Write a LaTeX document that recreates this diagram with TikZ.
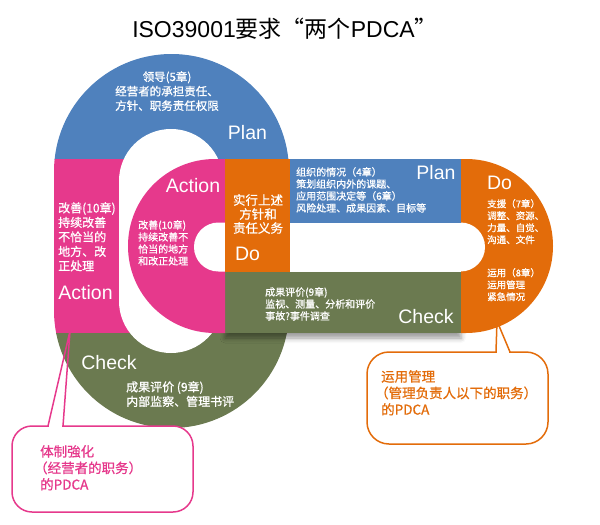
\documentclass[tikz,border=0pt]{standalone}
\usepackage{fontspec}
\setmainfont{Liberation Sans}
\newfontfamily\cjk{Noto Sans CJK SC}
\newfontfamily\cjkb{Noto Sans CJK SC}[FakeBold=0.8]
\usepackage{tikz}
\usetikzlibrary{shadows.blur}
\definecolor{planblue}{RGB}{79,129,189}
\definecolor{actpink}{RGB}{230,57,140}
\definecolor{doorange}{RGB}{227,108,10}
\definecolor{chkgreen}{RGB}{107,122,80}
\tikzset{%
    phase/.style={text=white, inner sep=0pt, font=\fontsize{19.5}{22}\selectfont},
    memo/.style={text=white, inner sep=0pt, align=left, font=\cjkb\fontsize{10}{12}\selectfont},
    bigmemo/.style={text=white, inner sep=0pt, align=left, font=\cjkb\fontsize{12}{14.5}\selectfont},
    callbox/.style={draw=#1, line width=1.5pt, outer sep=0pt, fill=white},
    calltext/.style={text=#1, inner sep=0pt, align=left, font=\cjkb\fontsize{13.5}{16.5}\selectfont}
}

\begin{document}
\begin{tikzpicture}[x=1pt,y=-1pt]
    \useasboundingbox (0,0) rectangle (600,525);
    \node[font=\fontsize{23}{26}\selectfont, anchor=base] (title) at (285,37) {ISO39001{\cjk 要求“两个}PDCA{\cjk ”}};

    % top-management ring
    \begin{scope}
        \clip (0,0) rectangle (600,159);
        \fill[planblue, rounded corners=117.4pt] (54,54) rectangle (289,428);
    \end{scope}
    \begin{scope}
        \clip (0,159) rectangle (600,333);
        \fill[actpink, rounded corners=117.4pt] (54,54) rectangle (289,428);
    \end{scope}
    \begin{scope}
        \clip (0,333) rectangle (600,525);
        \fill[chkgreen, rounded corners=117.4pt] (54,54) rectangle (289,428);
    \end{scope}
    \fill[white, rounded corners=51.9pt] (119,129) rectangle (223,353);

    % operational ring
    \fill[chkgreen, blur shadow={shadow xshift=0pt, shadow yshift=-5pt, shadow opacity=40, shadow blur radius=5pt}] (225,271.5) rectangle (461,333);
    \begin{scope}
        \clip (0,0) rectangle (225,525);
        \fill[actpink, rounded corners=86.9pt] (128,159) rectangle (553,333);
    \end{scope}
    \begin{scope}
        \clip (461,0) rectangle (600,525);
        \fill[doorange, rounded corners=86.9pt] (128,159) rectangle (553,333);
    \end{scope}
    \fill[white, rounded corners=24.4pt] (194,222.5) rectangle (485,271.5);
    \fill[doorange] (225,159) rectangle (290,271.5);
    \fill[planblue] (290,159) rectangle (461,222.5);

    % labels
    \node[phase] (plantop) at (247.5,133) {Plan};
    \node[bigmemo, align=center, anchor=north, font=\cjkb\fontsize{11.5}{14.5}\selectfont] (leadnote) at (167,71) {领导(5章)\\经营者的承担责任、\\方针、职务责任权限};
    \node[bigmemo, anchor=north west] (actnote) at (58,202) {改善(10章)\\持续改善\\不恰当的\\地方、改\\正处理};
    \node[phase] (actleft) at (85.5,292.5) {Action};
    \node[phase] (checkbot) at (109,363) {Check};
    \node[bigmemo, anchor=north west] (checknote) at (126,381) {成果评价 (9章)\\内部监察、管理书评};

    \node[phase] (actin) at (193,185.5) {Action};
    \node[memo, anchor=north west] (actinnote) at (138,220) {改善(10章)\\持续改善不\\恰当的地方\\和改正处理};
    \node[bigmemo, align=center, anchor=north, font=\cjkb\fontsize{12.5}{14}\selectfont] (donote) at (258,194) {实行上述\\方针和\\责任义务};
    \node[phase] (doleft) at (247.5,254) {Do};
    \node[memo, anchor=north west] (plannote) at (296,167) {组织的情况（4章）\\策划组织内外的课题、\\应用范围决定等（6章）\\风险处理、成果因素、目标等};
    \node[phase] (planright) at (436,172.5) {Plan};
    \node[phase] (doright) at (499.5,183) {Do};
    \node[memo, anchor=north west, font=\cjkb\fontsize{9.5}{12}\selectfont] (supnote) at (487,199) {支援（7章）\\调整、资源、\\力量、自觉、\\沟通、文件};
    \node[memo, anchor=north west, font=\cjkb\fontsize{9.5}{12}\selectfont] (opnote) at (487,268) {运用（8章）\\运用管理\\紧急情况};
    \node[memo, anchor=north west] (evalnote) at (265,287) {成果评价(9章)\\监视、测量、分析和评价\\事故?事件调查};
    \node[phase] (checkright) at (426,317) {Check};

    % callouts
    \node[callbox=actpink, rounded corners=20pt, minimum width=181pt, minimum height=86pt] (leftcall) at (102.5,469) {};
    \coordinate (lefttip) at (70,331);
    \fill[white] ([xshift=36.8pt,yshift=1.3pt]leftcall.north west) rectangle ([xshift=50.2pt,yshift=-1.3pt]leftcall.north west);
    \draw[actpink, line width=1.5pt, line join=round] ([xshift=36pt]leftcall.north west) -- (lefttip) -- ([xshift=51pt]leftcall.north west);
    \node[calltext=actpink, anchor=north west] (lefttext) at (40,445) {体制強化\\\hspace*{-0.45em}（经营者的职务）\\的PDCA};

    \node[callbox=doorange, rounded corners=22pt, minimum width=181pt, minimum height=92pt] (rightcall) at (457.5,398) {};
    \coordinate (righttip) at (497,321);
    \fill[white] ([xshift=129.8pt,yshift=1.3pt]rightcall.north west) rectangle ([xshift=142.2pt,yshift=-1.3pt]rightcall.north west);
    \draw[doorange, line width=1.5pt, line join=round] ([xshift=129pt]rightcall.north west) -- (righttip) -- ([xshift=143pt]rightcall.north west);
    \node[calltext=doorange, anchor=north west] (righttext) at (381,370) {运用管理\\\hspace*{-0.45em}（管理负责人以下的职务）\\的PDCA};
\end{tikzpicture}
\end{document}
